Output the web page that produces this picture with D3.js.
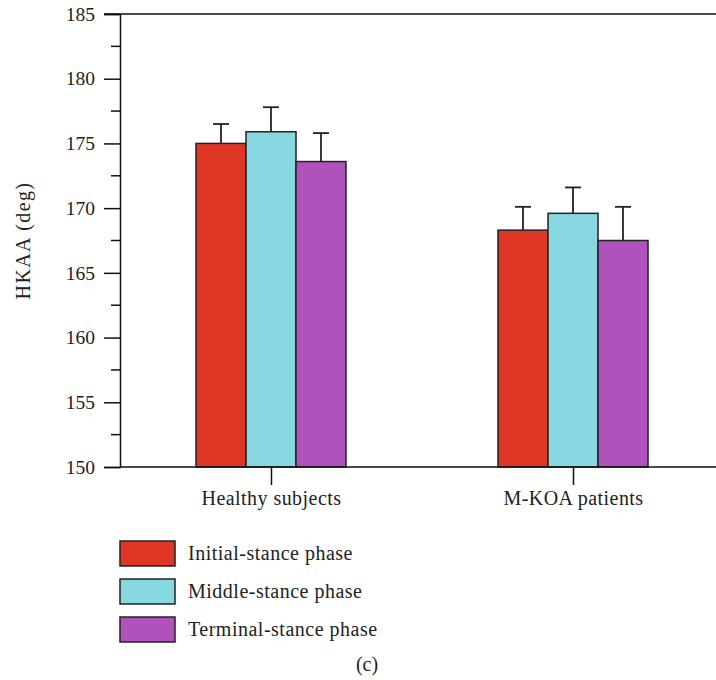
<!DOCTYPE html>
<html><head><meta charset="utf-8">
<script src="https://cdn.jsdelivr.net/npm/d3@7"></script>
<style>body{margin:0;background:#fff}svg{display:block}text{font-family:"Liberation Serif","DejaVu Serif",serif;fill:#222}</style>
</head><body><div id="chart"></div>
<script>
const categories = ["Healthy subjects", "M-KOA patients"];
const seriesNames = ["Initial-stance phase", "Middle-stance phase", "Terminal-stance phase"];
const seriesColors = ["#E03626", "#88D8E2", "#B052BC"];
const meanValues = [[175.0, 175.9, 173.6], [168.3, 169.6, 167.5]];
const errorTops = [[176.5, 177.8, 175.8], [170.1, 171.6, 170.1]];
const yTicks = [150, 155, 160, 165, 170, 175, 180, 185];
const yMinorTicks = [152.5, 157.5, 162.5, 167.5, 172.5, 177.5, 182.5];

(function () {
const W = 716, H = 680;
const svg = d3.select("#chart").append("svg").attr("width", W).attr("height", H);
const mLeft = 120, mRight = 716, mTop = 14, mBottom = 467;
const FONT = '"Liberation Serif", serif';

const y = d3.scaleLinear().domain([150, 185]).range([mBottom, mTop]);
const xc = d3.scalePoint().domain(categories).range([271, 573]);
const xs = d3.scaleBand().domain(seriesNames).range([-75, 75]).padding(0);

// top frame line
svg.append("line").attr("x1", 104).attr("x2", mRight).attr("y1", y(185)).attr("y2", y(185))
  .attr("stroke", "#111").attr("stroke-width", 1.5);

// y axis
const yAxis = svg.append("g").attr("transform", `translate(${mLeft},0)`)
  .call(d3.axisLeft(y).tickValues(yTicks).tickSize(16).tickPadding(9).tickFormat(d3.format("d")));
yAxis.select(".domain").attr("stroke", "#111").attr("stroke-width", 1.5);
yAxis.selectAll(".tick line").attr("stroke", "#111").attr("stroke-width", 1.5);
yAxis.selectAll(".tick text").attr("font-size", 19.5).attr("fill", "#222")
  .style("font-family", FONT);
svg.append("g").selectAll("line").data(yMinorTicks).join("line")
  .attr("x1", mLeft - 9).attr("x2", mLeft).attr("y1", d => y(d)).attr("y2", d => y(d))
  .attr("stroke", "#111").attr("stroke-width", 1.5);

// bars
const groups = svg.append("g").selectAll("g").data(categories).join("g")
  .attr("transform", d => `translate(${xc(d)},0)`);
groups.each(function(cat, ci) {
  const g = d3.select(this);
  seriesNames.forEach((s, si) => {
    const bx = xs(s);
    const v = meanValues[ci][si];
    const e = errorTops[ci][si];
    const cx = bx + xs.bandwidth() / 2;
    g.append("line").attr("x1", cx).attr("x2", cx).attr("y1", y(v)).attr("y2", y(e))
      .attr("stroke", "#222").attr("stroke-width", 1.8);
    g.append("line").attr("x1", cx - 8).attr("x2", cx + 8).attr("y1", y(e)).attr("y2", y(e))
      .attr("stroke", "#222").attr("stroke-width", 1.8);
    g.append("rect").attr("x", bx).attr("width", xs.bandwidth())
      .attr("y", y(v)).attr("height", y(150) - y(v))
      .attr("fill", seriesColors[si]).attr("stroke", "#222").attr("stroke-width", 1.5);
  });
});

// x axis
svg.append("line").attr("x1", mLeft).attr("x2", mRight).attr("y1", mBottom).attr("y2", mBottom)
  .attr("stroke", "#111").attr("stroke-width", 1.5);
const xAxis = svg.append("g").attr("transform", `translate(0,${mBottom})`)
  .call(d3.axisBottom(xc).tickSize(18).tickPadding(6));
xAxis.select(".domain").remove();
xAxis.selectAll(".tick line").attr("stroke", "#111").attr("stroke-width", 1.5);
xAxis.selectAll(".tick text").attr("font-size", 20).attr("fill", "#222")
  .attr("letter-spacing", 0.45).style("font-family", FONT);

// y label
svg.append("text").attr("transform", `translate(30,${(mTop + mBottom) / 2}) rotate(-90)`)
  .attr("text-anchor", "middle").attr("font-size", 20).attr("letter-spacing", 1.4).text("HKAA (deg)");

// legend
const leg = svg.append("g").selectAll("g").data(seriesNames).join("g")
  .attr("transform", (d, i) => `translate(120,${541 + i * 38})`);
leg.append("rect").attr("width", 55).attr("height", 25)
  .attr("fill", (d, i) => seriesColors[i]).attr("stroke", "#222").attr("stroke-width", 1.5);
leg.append("text").attr("x", 68).attr("y", 19).attr("font-size", 20)
  .attr("letter-spacing", 0.5).text(d => d);

svg.append("text").attr("x", 367).attr("y", 671).attr("text-anchor", "middle")
  .attr("font-size", 20).text("(c)");
})();
</script></body></html>
